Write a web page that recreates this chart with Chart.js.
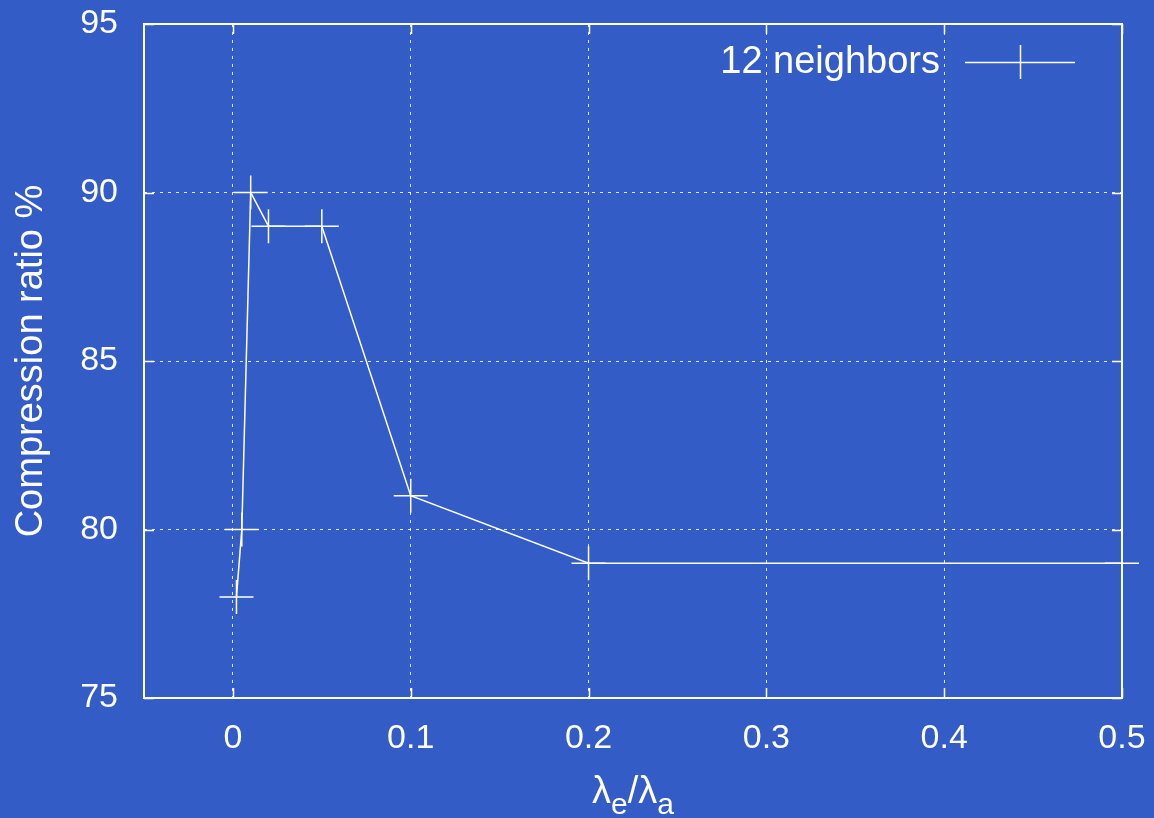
<!DOCTYPE html>
<html><head><meta charset="utf-8">
<script src="https://cdn.jsdelivr.net/npm/chart.js@4.4.0/dist/chart.umd.min.js"></script>
<style>html,body{margin:0;padding:0;background:#335cc6;} canvas{display:block;}</style>
</head><body>
<canvas id="c" width="1154" height="818"></canvas>
<script>
const seriesLabel = '12 neighbors';
const lambdaRatio = [0.002, 0.005, 0.01, 0.02, 0.05, 0.1, 0.2, 0.5];
const compressionRatio = [78, 80, 90, 89, 89, 81, 79, 79];
const xTickValues = [0, 0.1, 0.2, 0.3, 0.4, 0.5];
const yTickValues = [75, 80, 85, 90, 95];
const yTitle = 'Compression ratio %';
const xTitleParts = [['λ', false], ['e', true], ['/', false], ['λ', false], ['a', true]];

const BG = '#335cc6';
const FG = '#ffffff';
const GRID = 'rgba(255,255,255,0.85)';
const FONT = '"Liberation Sans", Arial, Helvetica, sans-serif';

const bgPlugin = {
  id: 'bg',
  beforeDraw(chart) {
    const ctx = chart.ctx;
    ctx.save();
    ctx.fillStyle = BG;
    ctx.fillRect(0, 0, chart.width, chart.height);
    ctx.restore();
  }
};

const framePlugin = {
  id: 'frame',
  afterDraw(chart) {
    const ctx = chart.ctx, a = chart.chartArea;
    const xs = chart.scales.x, ys = chart.scales.y;
    const tl = 10;
    ctx.save();
    ctx.strokeStyle = FG;
    ctx.lineWidth = 2;
    ctx.strokeRect(a.left, a.top, a.right - a.left, a.bottom - a.top);
    ctx.lineWidth = 1.5;
    ctx.beginPath();
    xTickValues.forEach(v => {
      const px = Math.round(xs.getPixelForValue(v)) + 0.5;
      ctx.moveTo(px, a.bottom); ctx.lineTo(px, a.bottom - tl);
      ctx.moveTo(px, a.top); ctx.lineTo(px, a.top + tl);
    });
    yTickValues.forEach(v => {
      const py = Math.round(ys.getPixelForValue(v)) + 0.5;
      ctx.moveTo(a.left, py); ctx.lineTo(a.left + tl, py);
      ctx.moveTo(a.right, py); ctx.lineTo(a.right - tl, py);
    });
    ctx.stroke();

    // x axis title with subscripts
    const mainSize = 38, subSize = 30;
    let total = 0;
    xTitleParts.forEach(([t, sub]) => {
      ctx.font = (sub ? subSize : mainSize) + 'px ' + FONT;
      total += ctx.measureText(t).width;
    });
    let x = (a.left + a.right) / 2 - total / 2;
    const base = 803;
    ctx.fillStyle = FG;
    ctx.textBaseline = 'alphabetic';
    ctx.textAlign = 'left';
    xTitleParts.forEach(([t, sub]) => {
      ctx.font = (sub ? subSize : mainSize) + 'px ' + FONT;
      ctx.fillText(t, x, sub ? base + 11 : base);
      x += ctx.measureText(t).width;
    });

    // legend (gnuplot style: text, then sample line with point)
    const ly = 62;
    ctx.font = '38px ' + FONT;
    ctx.textAlign = 'right';
    ctx.textBaseline = 'middle';
    ctx.fillText(chart.data.datasets[0].label, 940, ly + 1);
    ctx.lineWidth = 1.5;
    ctx.beginPath();
    ctx.moveTo(965, ly + 0.5); ctx.lineTo(1075, ly + 0.5);
    ctx.moveTo(1020.5, ly - 17); ctx.lineTo(1020.5, ly + 17);
    ctx.stroke();
    ctx.restore();
  }
};

function zeroPad(axis) {
  axis.paddingTop = 0; axis.paddingBottom = 0;
  axis.paddingLeft = 0; axis.paddingRight = 0;
}

new Chart(document.getElementById('c'), {
  type: 'scatter',
  data: {
    datasets: [{
      label: seriesLabel,
      data: lambdaRatio.map((x, i) => ({ x: x, y: compressionRatio[i] })),
      showLine: true,
      borderColor: FG,
      borderWidth: 1.5,
      backgroundColor: FG,
      pointStyle: 'cross',
      pointRadius: 17,
      pointBorderWidth: 1.5,
      pointBorderColor: FG,
      pointHoverRadius: 17,
      tension: 0,
      clip: false
    }]
  },
  options: {
    responsive: false,
    devicePixelRatio: 1,
    animation: false,
    events: [],
    layout: { padding: { top: 24, right: 32, left: 0, bottom: 0 } },
    plugins: { legend: { display: false }, tooltip: { enabled: false } },
    scales: {
      x: {
        type: 'linear',
        min: -0.05,
        max: 0.5,
        afterBuildTicks: axis => { axis.ticks = xTickValues.map(v => ({ value: v })); },
        afterFit: axis => { axis.height = 120; zeroPad(axis); },
        grid: {
          drawTicks: false,
          lineWidth: 1,
          color: ctx => (ctx.tick && ctx.tick.value === 0.5) ? 'rgba(0,0,0,0)' : GRID
        },
        border: { display: false, dash: [3, 5] },
        ticks: {
          color: FG,
          font: { family: FONT, size: 34 },
          padding: 20,
          maxRotation: 0,
          autoSkip: false,
          callback: v => String(v)
        },
        title: { display: false }
      },
      y: {
        type: 'linear',
        min: 75,
        max: 95,
        afterBuildTicks: axis => { axis.ticks = yTickValues.map(v => ({ value: v })); },
        afterFit: axis => { axis.width = 144; zeroPad(axis); },
        grid: {
          drawTicks: false,
          lineWidth: 1,
          color: ctx => (ctx.tick && (ctx.tick.value === 75 || ctx.tick.value === 95)) ? 'rgba(0,0,0,0)' : GRID
        },
        border: { display: false, dash: [3, 5] },
        ticks: {
          color: FG,
          font: { family: FONT, size: 34 },
          padding: 26,
          autoSkip: false,
          callback: v => String(v)
        },
        title: {
          display: true,
          text: yTitle,
          color: FG,
          font: { family: FONT, size: 38 },
          padding: { top: 9, bottom: 0 }
        }
      }
    }
  },
  plugins: [bgPlugin, framePlugin]
});
</script>
</body></html>
